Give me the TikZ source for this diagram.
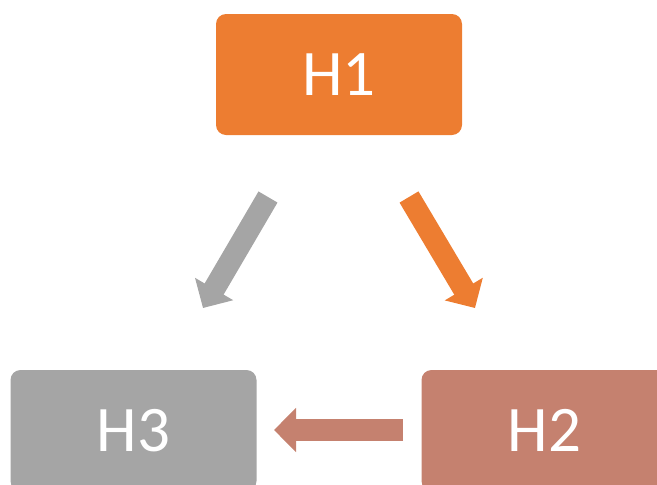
\documentclass[tikz,border=0pt]{standalone}
\usepackage{fontspec}
\setmainfont{Carlito}
\usetikzlibrary{arrows.meta}
\definecolor{orangeA}{HTML}{ED7D31}
\definecolor{grayA}{HTML}{A5A5A5}
\definecolor{roseA}{HTML}{C5816F}
\tikzset{
  hbox/.style={rectangle, rounded corners=10pt, minimum width=246pt, minimum height=121pt,
    inner sep=0pt, text=white, font=\fontsize{65}{78}\selectfont},
  blockarrow/.style={line width=22pt, line cap=butt, -{Triangle[width=43pt,length=22pt]}}
}
\begin{document}
\begin{tikzpicture}[x=1pt,y=-1pt]
\useasboundingbox (0,0) rectangle (657,485);
\clip (0,0) rectangle (657,485);
\node[hbox, fill=orangeA] (h1) at (339,74.5) {H1};
\node[hbox, fill=grayA] (h3) at (133.5,430.5) {H3};
\node[hbox, fill=roseA] (h2) at (544.5,430.5) {H2};
\coordinate (g1) at (268,197);
\coordinate (g2) at (203,308);
\coordinate (o1) at (409,197);
\coordinate (o2) at (475,308);
\coordinate (r1) at (403,430);
\coordinate (r2) at (274,430);
\draw[blockarrow, grayA] (g1) -- (g2);
\draw[blockarrow, orangeA] (o1) -- (o2);
\draw[blockarrow, roseA] (r1) -- (r2);
\end{tikzpicture}
\end{document}
